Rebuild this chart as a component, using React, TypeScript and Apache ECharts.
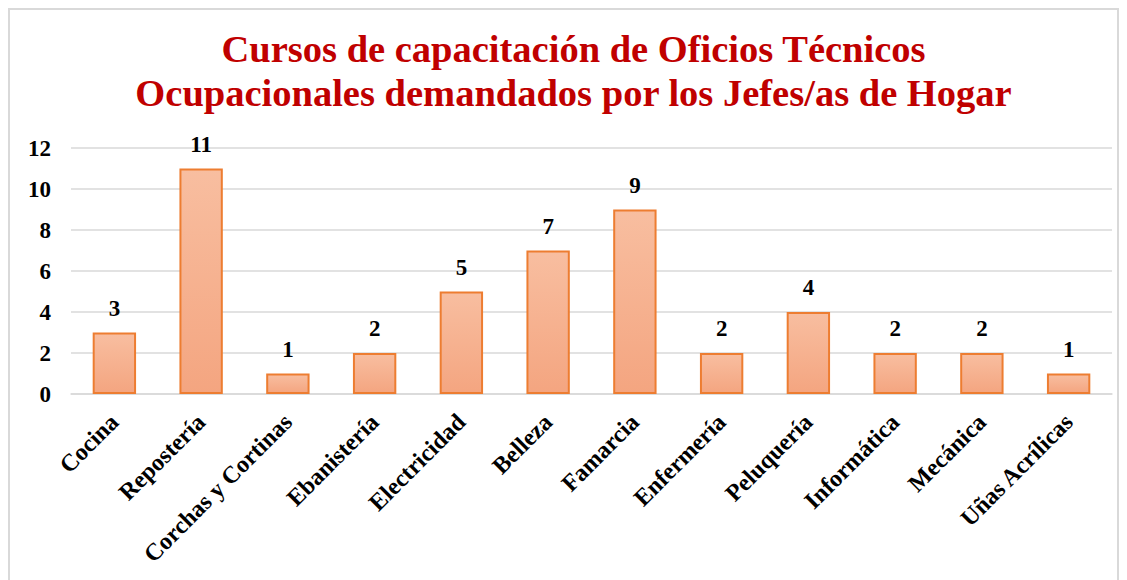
import React, { useEffect, useRef } from "react";
import * as echarts from "echarts";

const categories = [
  "Cocina",
  "Repostería",
  "Corchas y Cortinas",
  "Ebanistería",
  "Electricidad",
  "Belleza",
  "Famarcia",
  "Enfermería",
  "Peluquería",
  "Informática",
  "Mecánica",
  "Uñas Acrílicas",
];
const values = [3, 11, 1, 2, 5, 7, 9, 2, 4, 2, 2, 1];
const titleLines = [
  "Cursos de capacitación de Oficios Técnicos",
  "Ocupacionales demandados por los Jefes/as de Hogar",
];

const FONT = "'Liberation Serif', 'Times New Roman', serif";

export default function App() {
  const ref = useRef<HTMLDivElement>(null);
  useEffect(() => {
    if (!ref.current) return;
    const chart = echarts.init(ref.current, undefined, { renderer: "svg" });
    chart.setOption({
      animation: false,
      backgroundColor: "#ffffff",
      graphic: [
        {
          type: "text",
          x: 563.5,
          y: 17,
          style: {
            text: titleLines.join("\n"),
            textAlign: "center",
            textVerticalAlign: "top",
            fontFamily: FONT,
            fontWeight: "bold",
            fontSize: 38.5,
            lineHeight: 44,
            fill: "#c00000",
          },
        },
      ],
      grid: { left: 61, right: 5, top: 138, height: 246 },
      xAxis: {
        type: "category",
        data: categories,
        axisLine: { show: true, lineStyle: { color: "#d9d9d9", width: 1.5 } },
        axisTick: { show: false },
        axisLabel: {
          rotate: 45,
          interval: 0,
          margin: 24,
          fontFamily: FONT,
          fontWeight: "bold",
          fontSize: 24,
          color: "#000",
        },
      },
      yAxis: {
        type: "value",
        min: 0,
        max: 12,
        interval: 2,
        axisLine: { show: false },
        axisTick: { show: false },
        splitLine: { lineStyle: { color: "#d9d9d9", width: 1.5 } },
        axisLabel: {
          margin: 20,
          fontFamily: FONT,
          fontWeight: "bold",
          fontSize: 23,
          color: "#000",
        },
      },
      series: [
        {
          type: "bar",
          data: values,
          barWidth: "50%",
          itemStyle: {
            color: new echarts.graphic.LinearGradient(0, 0, 0, 1, [
              { offset: 0, color: "#f8bea0" },
              { offset: 1, color: "#f4a580" },
            ]),
            borderColor: "#ed7d31",
            borderWidth: 2,
          },
          label: {
            show: true,
            position: "top",
            distance: 13,
            fontFamily: FONT,
            fontWeight: "bold",
            fontSize: 23,
            color: "#000",
          },
        },
      ],
    });
    return () => chart.dispose();
  }, []);
  return (
    <div
      ref={ref}
      style={{
        width: 1107,
        height: 600,
        border: "2px solid #d9d9d9",
        background: "#fff",
      }}
    />
  );
}
